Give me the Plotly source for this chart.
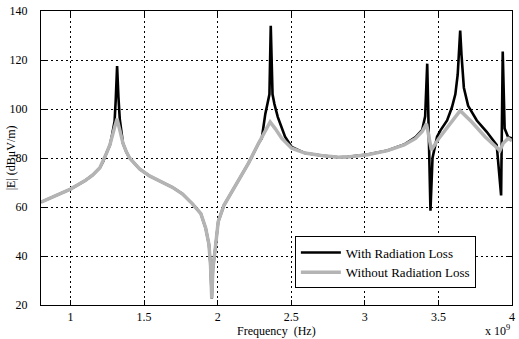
import plotly.graph_objects as go

# Frequency in units of 1e9 Hz, |E| in dBuV/m
freq_without = [0.80, 0.90, 1.00, 1.10, 1.15, 1.20, 1.223, 1.245, 1.268, 1.28, 1.30, 1.317, 1.335,
                1.357, 1.38, 1.402, 1.44, 1.47, 1.537, 1.605, 1.694, 1.762, 1.829, 1.886, 1.919,
                1.941, 1.952, 1.960, 1.968, 1.982, 2.004, 2.043, 2.088, 2.143, 2.211, 2.278, 2.323,
                2.357, 2.391, 2.436, 2.503, 2.593, 2.705, 2.82, 2.884, 3.019, 3.154, 3.267, 3.345,
                3.39, 3.419, 3.435, 3.452, 3.503, 3.57, 3.648, 3.727, 3.817, 3.918, 3.94, 3.974, 4.0]
e_without = [62.0, 64.5, 67.3, 70.8, 73.0, 76.0, 78.7, 82.0, 85.3, 88.5, 92.5, 96.0, 91.5,
             86.0, 82.5, 80.0, 77.5, 75.5, 72.7, 70.7, 68.0, 65.3, 61.3, 57.3, 51.3,
             44.7, 36.0, 22.7, 35.0, 42.0, 54.0, 60.7, 65.3, 71.0, 78.0, 86.0, 91.3,
             94.7, 92.0, 88.0, 84.0, 82.0, 81.0, 80.3, 80.4, 81.3, 83.0, 85.3, 88.0,
             90.8, 94.0, 88.7, 83.3, 88.0, 93.3, 99.3, 94.7, 88.7, 83.0, 86.0, 88.0, 87.0]

freq_with = [0.80, 0.90, 1.00, 1.10, 1.15, 1.20, 1.223, 1.245, 1.268, 1.28, 1.30, 1.308, 1.317,
             1.326, 1.335, 1.357, 1.38, 1.402, 1.44, 1.47, 1.537, 1.605, 1.694, 1.762, 1.829,
             1.886, 1.919, 1.941, 1.952, 1.960, 1.968, 1.982, 2.004, 2.043, 2.088, 2.143, 2.211,
             2.278, 2.30, 2.324, 2.341, 2.352, 2.361, 2.373, 2.386, 2.409, 2.458, 2.503, 2.593,
             2.705, 2.82, 2.884, 3.019, 3.154, 3.267, 3.345, 3.39, 3.41, 3.424, 3.435, 3.446,
             3.46, 3.491, 3.514, 3.559, 3.592, 3.615, 3.631, 3.644, 3.648, 3.657, 3.673, 3.702,
             3.761, 3.828, 3.896, 3.926, 3.937, 3.95, 3.974, 4.0]
e_with = [62.0, 64.5, 67.3, 70.8, 73.0, 76.0, 78.7, 82.0, 85.3, 88.5, 95.0, 104.0, 117.5,
          105.0, 96.0, 86.0, 82.5, 80.0, 77.5, 75.5, 72.7, 70.7, 68.0, 65.3, 61.3,
          57.3, 51.3, 44.7, 36.0, 22.7, 35.0, 42.0, 54.0, 60.7, 65.3, 71.0, 78.0,
          86.0, 88.0, 98.0, 103.3, 106.0, 134.0, 106.0, 102.0, 96.7, 88.7, 84.5, 82.0,
          81.0, 80.3, 80.5, 81.4, 83.1, 85.5, 88.5, 91.5, 97.0, 118.5, 90.0, 58.5,
          80.0, 88.7, 91.3, 95.3, 100.7, 106.0, 114.0, 124.7, 132.0, 122.0, 108.7, 101.3,
          95.3, 90.7, 85.3, 64.7, 123.5, 92.0, 88.5, 88.0]

x_ticks = [1, 1.5, 2, 2.5, 3, 3.5, 4]
x_tick_labels = ["1", "1.5", "2", "2.5", "3", "3.5", "4"]
y_ticks = [20, 40, 60, 80, 100, 120, 140]

serif = "Liberation Serif"

fig = go.Figure()
fig.add_trace(go.Scatter(x=freq_with, y=e_with, mode="lines", name="With Radiation Loss",
                         line=dict(color="black", width=2.6)))
fig.add_trace(go.Scatter(x=freq_without, y=e_without, mode="lines", name="Without Radiation Loss",
                         line=dict(color="#b4b4b4", width=3.5)))

axis_common = dict(showline=True, linecolor="black", linewidth=1, mirror="ticks",
                   ticks="inside", ticklen=5, tickcolor="black", tickwidth=1,
                   showgrid=True, gridcolor="black", gridwidth=1, griddash="2px,3px",
                   zeroline=False, ticklabeloverflow="allow",
                   tickfont=dict(family=serif, size=12, color="black"))

fig.update_xaxes(range=[0.8, 4], tickvals=x_ticks, ticktext=x_tick_labels,
                 ticklabelstandoff=1, **axis_common)
fig.update_yaxes(range=[20, 140], tickvals=y_ticks, ticklabelstandoff=10, **axis_common)

fig.update_layout(
    width=519, height=339,
    margin=dict(l=41, r=4, t=5, b=34),
    paper_bgcolor="white", plot_bgcolor="white",
    font=dict(family=serif, size=12, color="black"),
    legend=dict(x=0.539, y=0.233, xanchor="left", yanchor="top",
                bgcolor="white", bordercolor="black", borderwidth=1,
                font=dict(family=serif, size=13, color="black"),
                tracegroupgap=0, itemwidth=40),
    annotations=[
        dict(text="Frequency\u00a0 (Hz)", x=0.5, y=-0.09, xref="paper", yref="paper",
             xanchor="center", yanchor="middle", showarrow=False,
             font=dict(family=serif, size=12, color="black")),
        dict(text="|E| (dBμV/m)", x=-0.063, y=0.5, xref="paper", yref="paper",
             xanchor="center", yanchor="middle", textangle=-90, showarrow=False,
             font=dict(family=serif, size=12, color="black")),
        dict(text="x 10<sup>9</sup>", x=1.0, y=-0.088, xref="paper", yref="paper",
             xanchor="right", yanchor="middle", showarrow=False,
             font=dict(family=serif, size=12, color="black")),
    ],
)

fig.write_html("out.html")
